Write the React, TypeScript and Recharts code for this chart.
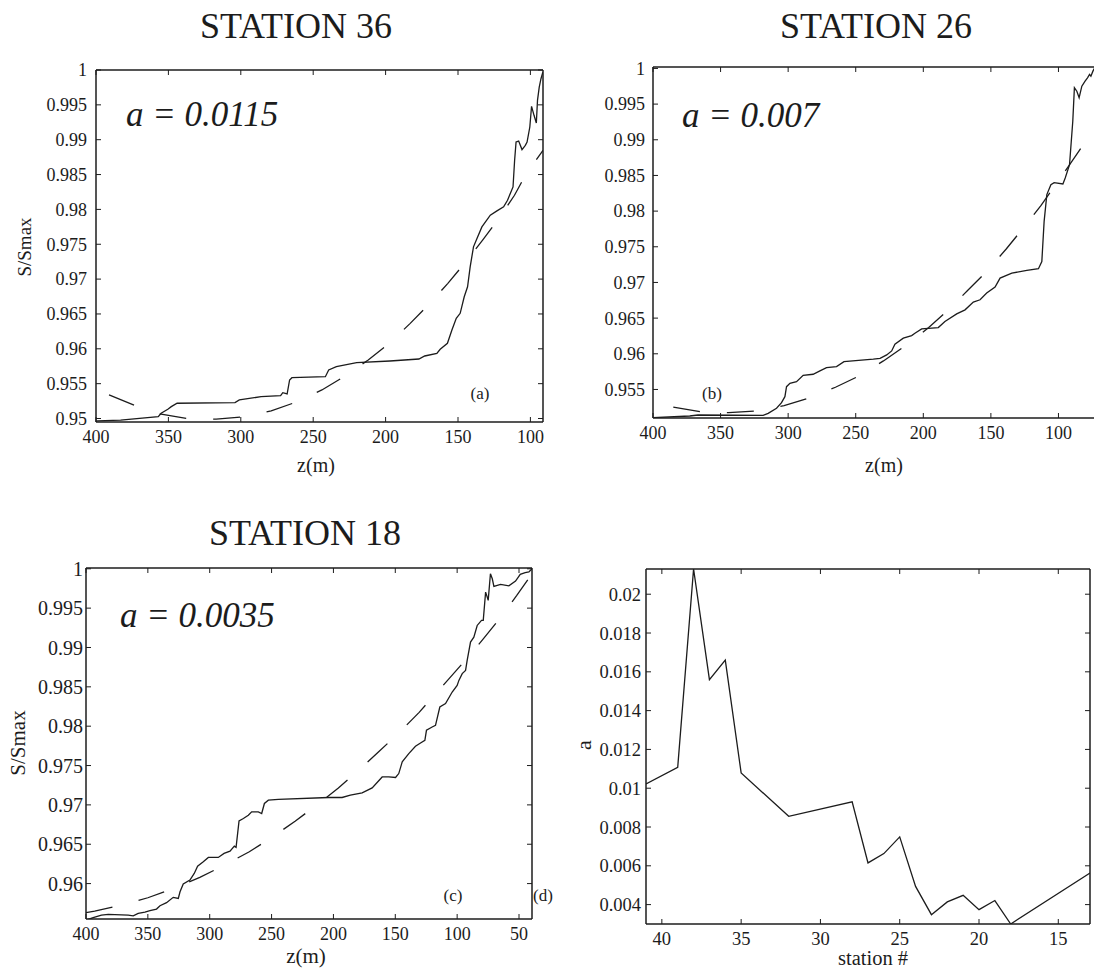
import { LineChart, Line, XAxis, YAxis } from 'recharts';

const serif = '"Liberation Serif", "Times New Roman", serif';
const ink = '#1c1c1c';

// station 36 : measured S/Smax against depth
const s36Depth = [400, 399, 383, 357, 355, 350.4, 348, 344, 304, 301, 286, 272.5, 271, 268, 266.3, 264.7, 241.6, 239.3, 234, 220, 197, 177, 173, 164.6, 162.3, 157.3, 154.2, 151.2, 148.5, 145.7, 143.4, 141.6, 139.3, 136.9, 133.5, 127.7, 123.1, 118.5, 115.8, 112, 110.9, 109.9, 108.1, 105.8, 103.5, 102.3, 100.4, 99.2, 97.5, 95.9, 95.1, 93.9, 92.7, 91.4];
const s36Ratio = [0.94962, 0.94966, 0.94976, 0.95027, 0.95076, 0.95133, 0.9517, 0.95219, 0.95228, 0.95266, 0.95314, 0.95328, 0.95371, 0.95352, 0.95553, 0.95586, 0.956, 0.95696, 0.95744, 0.95801, 0.95825, 0.95854, 0.95897, 0.95935, 0.95993, 0.96079, 0.96269, 0.96437, 0.96509, 0.96747, 0.9689, 0.97176, 0.97463, 0.97583, 0.97749, 0.97917, 0.97979, 0.98036, 0.98132, 0.98322, 0.98705, 0.98967, 0.98981, 0.98858, 0.9892, 0.98967, 0.99182, 0.99479, 0.9935, 0.99239, 0.99564, 0.99755, 0.99875, 0.9997];
// station 36 : fitted curve
const s36FitDepth = [391, 373, 356, 337, 317, 298.5, 279, 262, 244, 228, 212, 197, 183, 170, 157, 145, 133, 122, 111, 103.5, 91.3];
const s36FitRatio = [0.95338, 0.95185, 0.95066, 0.94999, 0.9499, 0.95023, 0.95109, 0.95234, 0.9541, 0.9561, 0.9584, 0.96087, 0.96365, 0.96638, 0.96939, 0.97239, 0.97559, 0.97864, 0.98203, 0.9849, 0.98848];

// station 26
const s26Depth = [400, 372.8, 366.7, 318.5, 314.8, 308.6, 304.9, 302.4, 301.2, 298.7, 293.8, 288.9, 281.5, 276.5, 271.6, 264.2, 258.7, 237, 232, 227.1, 223.4, 221, 214.8, 208.6, 206.2, 201.2, 188.9, 184, 175.3, 169.1, 163, 158, 153.1, 146.9, 143.2, 134.5, 123.4, 114.8, 112.3, 110.6, 108.6, 105.6, 103.2, 96.7, 95, 91.8, 89.4, 88.2, 86.4, 84.7, 82.7, 80.3, 78.5, 77, 76, 74.5, 73.5];
const s26Ratio = [0.95104, 0.95128, 0.95142, 0.95138, 0.95166, 0.95236, 0.95315, 0.95399, 0.95539, 0.95587, 0.95609, 0.95699, 0.95713, 0.9576, 0.95806, 0.9582, 0.9589, 0.95924, 0.95935, 0.95984, 0.9604, 0.96135, 0.96219, 0.96255, 0.96289, 0.96349, 0.96368, 0.96452, 0.9656, 0.96616, 0.96724, 0.96757, 0.96851, 0.96935, 0.97061, 0.97131, 0.97168, 0.97192, 0.97294, 0.97856, 0.98231, 0.98371, 0.98399, 0.98381, 0.98465, 0.98652, 0.9926, 0.99729, 0.99681, 0.99589, 0.99751, 0.99822, 0.99869, 0.99916, 0.99892, 0.99962, 1.0];
const s26FitDepth = [385, 365, 344, 324, 303, 284, 265, 247, 229.5, 213, 196, 181.5, 166.7, 152.6, 138.5, 126, 113, 92.6, 80.2, 73.5, 68];
const s26FitRatio = [0.95252, 0.95188, 0.95174, 0.95198, 0.95272, 0.95385, 0.95531, 0.95694, 0.959, 0.96115, 0.96368, 0.96616, 0.96897, 0.97164, 0.97473, 0.97763, 0.98076, 0.98628, 0.98971, 0.9919, 0.9934];

// station 18
const s18Depth = [400, 394.2, 387.5, 382, 365.9, 361.8, 357.8, 352.4, 348.3, 343, 340.2, 334.9, 329.5, 325.4, 324, 321.4, 316, 312.5, 309.8, 305.2, 301.1, 293.1, 288.4, 283.6, 280.1, 278.7, 276.3, 272.8, 268.8, 266.1, 260.7, 258, 255.8, 252.6, 244.5, 204, 193, 186.3, 176.8, 168.7, 160.6, 155.3, 149.8, 147.2, 144.4, 139.1, 133.7, 129.6, 126.1, 124.8, 120.2, 117.5, 114, 109.4, 104, 100, 98.6, 95.9, 93.2, 91.9, 89.2, 86.5, 83.8, 80.3, 78.9, 77, 75.7, 74.9, 73.1, 71.6, 70.3, 64.9, 58.2, 52.8, 49, 45, 42, 39.5];
const s18Ratio = [0.95537, 0.95566, 0.956, 0.95609, 0.956, 0.95591, 0.95622, 0.95638, 0.95655, 0.95676, 0.95718, 0.95757, 0.95825, 0.95812, 0.95896, 0.95994, 0.96044, 0.96129, 0.96222, 0.96277, 0.96332, 0.96332, 0.96383, 0.96412, 0.96476, 0.9646, 0.96797, 0.96827, 0.96869, 0.96911, 0.96911, 0.96891, 0.97018, 0.9706, 0.97069, 0.97094, 0.97094, 0.97123, 0.97152, 0.97216, 0.97355, 0.97355, 0.97348, 0.97398, 0.97546, 0.97652, 0.97745, 0.97787, 0.97821, 0.97948, 0.9799, 0.98011, 0.98244, 0.98287, 0.98434, 0.98519, 0.98582, 0.98668, 0.98709, 0.98836, 0.99069, 0.99132, 0.9928, 0.99344, 0.99344, 0.99703, 0.9964, 0.99598, 0.99937, 0.99873, 0.99775, 0.99801, 0.99784, 0.99843, 0.9993, 0.9995, 0.9996, 1.0];
const s18FitDepth = [400, 393, 371, 350, 328, 308, 288, 268, 249, 231, 212, 196, 179, 163, 146.4, 130.7, 115.6, 94, 79.2, 65.7, 51.8, 39.5];
const s18FitRatio = [0.9563, 0.9565, 0.95727, 0.9582, 0.95947, 0.96079, 0.96235, 0.96404, 0.96594, 0.96793, 0.97015, 0.97216, 0.97449, 0.97681, 0.97926, 0.98176, 0.98443, 0.98827, 0.99103, 0.99365, 0.99661, 0.99937];

// fitted coefficient a for each station
const stationNo = [41, 39, 38, 37, 36, 35, 32, 28, 27, 26, 25, 24, 23, 22, 21, 20, 19, 18, 13];
const stationA = [0.01022, 0.01108, 0.0213, 0.0156, 0.0166, 0.01079, 0.00855, 0.0093, 0.00615, 0.00663, 0.00749, 0.00494, 0.00348, 0.00414, 0.00448, 0.00374, 0.00421, 0.003, 0.00563];

// tick labels
const depthTicks = [400, 350, 300, 250, 200, 150, 100];
const depthTicks18 = [400, 350, 300, 250, 200, 150, 100, 50];
const ratioTicks36 = [0.95, 0.955, 0.96, 0.965, 0.97, 0.975, 0.98, 0.985, 0.99, 0.995, 1];
const ratioTicks26 = [0.955, 0.96, 0.965, 0.97, 0.975, 0.98, 0.985, 0.99, 0.995, 1];
const ratioTicks18 = [0.96, 0.965, 0.97, 0.975, 0.98, 0.985, 0.99, 0.995, 1];
const stationTicks = [40, 35, 30, 25, 20, 15];
const aTicks = [0.004, 0.006, 0.008, 0.01, 0.012, 0.014, 0.016, 0.018, 0.02];

const zip = (xs: number[], ys: number[]) => xs.map((x, i) => ({ x, y: ys[i] }));
const fmt = (v: number) => String(parseFloat(Number(v).toFixed(4)));
const blank = () => '';

type Series = { data: { x: number; y: number }[]; dashed?: boolean };

function Panel({
  left, top, plotW, plotH, xDomain, yDomain, xTicks, yTicks, series, xFont, yFont, yGap,
}: {
  left: number; top: number; plotW: number; plotH: number;
  xDomain: [number, number]; yDomain: [number, number];
  xTicks: number[]; yTicks: number[]; series: Series[];
  xFont: number; yFont: number; yGap: number;
}) {
  const border = { stroke: ink, strokeWidth: 1.5 };
  const inner = { stroke: ink, strokeWidth: 1 };
  const common = { type: 'number' as const, allowDataOverflow: true };
  // mirrored axes only carry the inward tick marks (and the top / right frame)
  const marks = { mirror: true, tickSize: 5, tickLine: inner, tickFormatter: blank, tick: { fontSize: 1 } };
  return (
    <div style={{ position: 'absolute', left: left - 60, top: top - 10 }}>
      <LineChart width={60 + plotW + 10} height={10 + plotH + 30} margin={{ top: 10, right: 10, left: 0, bottom: 0 }}>
        <XAxis xAxisId="x" dataKey="x" {...common} domain={xDomain} reversed ticks={xTicks} interval={0}
          height={30} tickLine={false} tickSize={0} tickMargin={8} axisLine={border}
          tick={{ fill: ink, fontSize: xFont, fontFamily: serif }} tickFormatter={fmt} />
        <XAxis xAxisId="xb" dataKey="x" {...common} {...marks} domain={xDomain} reversed ticks={xTicks} interval={0}
          axisLine={false} />
        <XAxis xAxisId="xt" dataKey="x" orientation="top" {...common} {...marks} domain={xDomain} reversed ticks={xTicks} interval={0}
          axisLine={border} />
        <YAxis yAxisId="y" {...common} domain={yDomain} ticks={yTicks} interval={0} width={60}
          tickLine={false} tickSize={0} tickMargin={yGap} axisLine={border}
          tick={{ fill: ink, fontSize: yFont, fontFamily: serif }} tickFormatter={fmt} />
        <YAxis yAxisId="yl" {...common} {...marks} domain={yDomain} ticks={yTicks} interval={0}
          axisLine={false} />
        <YAxis yAxisId="yr" orientation="right" {...common} {...marks} domain={yDomain} ticks={yTicks} interval={0}
          axisLine={border} />
        {series.map((s, i) => (
          <Line key={i} xAxisId="x" yAxisId="y" data={s.data} dataKey="y" type="linear"
            stroke={ink} strokeWidth={1.3} strokeDasharray={s.dashed ? '27 27' : undefined}
            dot={false} activeDot={false} isAnimationActive={false} />
        ))}
      </LineChart>
    </div>
  );
}

export default function App() {
  const t = { fontFamily: serif, fill: ink };
  return (
    <div style={{ position: 'absolute', left: 0, top: 0, width: 1094, height: 970, overflow: 'hidden', background: '#fff', fontFamily: serif }}>
      <Panel left={96} top={70} plotW={447} plotH={352} xDomain={[91.3, 400]} yDomain={[0.9495, 1]}
        xTicks={depthTicks} yTicks={ratioTicks36} xFont={18} yFont={18} yGap={9}
        series={[{ data: zip(s36Depth, s36Ratio) }, { data: zip(s36FitDepth, s36FitRatio), dashed: true }]} />
      <Panel left={653} top={67} plotW={446} plotH={351} xDomain={[70, 400]} yDomain={[0.951, 1.0002]}
        xTicks={depthTicks} yTicks={ratioTicks26} xFont={18} yFont={18} yGap={8}
        series={[{ data: zip(s26Depth, s26Ratio) }, { data: zip(s26FitDepth, s26FitRatio), dashed: true }]} />
      <Panel left={86} top={568} plotW={446} plotH={351} xDomain={[39.5, 400]} yDomain={[0.9555, 1.0001]}
        xTicks={depthTicks18} yTicks={ratioTicks18} xFont={18} yFont={20} yGap={3}
        series={[{ data: zip(s18Depth, s18Ratio) }, { data: zip(s18FitDepth, s18FitRatio), dashed: true }]} />
      <Panel left={646} top={569} plotW={444} plotH={355} xDomain={[13, 41]} yDomain={[0.003, 0.0213]}
        xTicks={stationTicks} yTicks={aTicks} xFont={18.5} yFont={18.5} yGap={5}
        series={[{ data: zip(stationNo, stationA) }]} />

      <svg width={1094} height={970} style={{ position: 'absolute', left: 0, top: 0, pointerEvents: 'none' }}>
        <text {...t} x={296} y={38} fontSize={36} textAnchor="middle">STATION 36</text>
        <text {...t} x={876} y={38} fontSize={36} textAnchor="middle">STATION 26</text>
        <text {...t} x={305} y={545} fontSize={36} textAnchor="middle">STATION 18</text>

        <text {...t} x={126} y={126} fontSize={35} fontStyle="italic">a = 0.0115</text>
        <text {...t} x={682} y={127} fontSize={35} fontStyle="italic">a = 0.007</text>
        <text {...t} x={120} y={627} fontSize={35} fontStyle="italic">a = 0.0035</text>

        <text {...t} x={480} y={399} fontSize={17} textAnchor="middle">(a)</text>
        <text {...t} x={712} y={399} fontSize={17} textAnchor="middle">(b)</text>
        <text {...t} x={453} y={901} fontSize={17} textAnchor="middle">(c)</text>
        <text {...t} x={533} y={901} fontSize={17}>(d)</text>

        <text {...t} x={316} y={472} fontSize={20} textAnchor="middle">z(m)</text>
        <text {...t} x={884} y={472} fontSize={20} textAnchor="middle">z(m)</text>
        <text {...t} x={306} y={963} fontSize={21} textAnchor="middle">z(m)</text>
        <text {...t} x={873} y={965} fontSize={20.5} textAnchor="middle">station #</text>

        <text {...t} fontSize={19} textAnchor="middle" dominantBaseline="central" transform="translate(24 247) rotate(-90)">S/Smax</text>
        <text {...t} fontSize={21} textAnchor="middle" dominantBaseline="central" transform="translate(18 743) rotate(-90)">S/Smax</text>
        <text {...t} fontSize={22} textAnchor="middle" dominantBaseline="central" transform="translate(583 745) rotate(-90)">a</text>
      </svg>
    </div>
  );
}
